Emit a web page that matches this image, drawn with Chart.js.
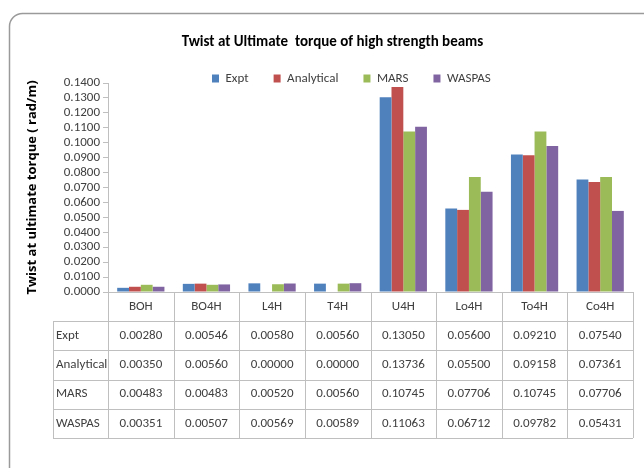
<!DOCTYPE html>
<html>
<head>
<meta charset="utf-8">
<script src="https://cdn.jsdelivr.net/npm/chart.js@4.4.1/dist/chart.umd.min.js"></script>
<style>
html, body { margin: 0; padding: 0; background: #fff; }
</style>
</head>
<body>
<canvas id="twistChart" width="644" height="468"></canvas>
<script>
// beams and twist values (rad/m)
var beams = ['BOH', 'BO4H', 'L4H', 'T4H', 'U4H', 'Lo4H', 'To4H', 'Co4H'];
var expt = [0.00280, 0.00546, 0.00580, 0.00560, 0.13050, 0.05600, 0.09210, 0.07540];
var analytical = [0.00350, 0.00560, 0.00000, 0.00000, 0.13736, 0.05500, 0.09158, 0.07361];
var mars = [0.00483, 0.00483, 0.00520, 0.00560, 0.10745, 0.07706, 0.10745, 0.07706];
var waspas = [0.00351, 0.00507, 0.00569, 0.00589, 0.11063, 0.06712, 0.09782, 0.05431];
var seriesNames = ['Expt', 'Analytical', 'MARS', 'WASPAS'];
var yTicks = { min: 0, max: 0.14, step: 0.01 };

var colors = ['#4F81BD', '#C0504D', '#9BBB59', '#8064A2'];
var font = "'Carlito', 'Liberation Sans Narrow', 'Open Sans', sans-serif";
var textColor = '#404040';
var lineColor = '#bfbfbf';

// rounded frame round the whole chart, like the Excel chart area
var framePlugin = {
    id: 'frame',
    beforeDraw: function (chart) {
        var c = chart.ctx;
        c.save();
        c.strokeStyle = '#9a9a9a';
        c.lineWidth = 1.5;
        c.beginPath();
        c.roundRect(9.5, 13.5, 700, 520, 13);
        c.stroke();
        c.restore();
    }
};

// Excel puts the title a bit right of centre and the legend over the plot top
var boxPlace = {
    id: 'boxPlace',
    afterLayout: function (chart) {
        var t = chart.titleBlock;
        t.left += 16;
        t.right += 16;
        var lg = chart.legend;
        var w = lg.width, h = lg.height;
        var pad = lg.options.labels.padding;
        lg.left = 212 - pad;
        lg.right = lg.left + w;
        lg.top = 72 - pad;
        lg.bottom = lg.top + h;
    }
};

// data table under the x axis, columns follow the category scale
var tablePlugin = {
    id: 'dataTable',
    afterDraw: function (chart) {
        var c = chart.ctx;
        var x = chart.scales.x;
        var top = chart.chartArea.bottom;
        var rowH = 29.2;
        var tableLeft = 53;
        var step = (x.right - x.left) / beams.length;
        var rows = [expt, analytical, mars, waspas];
        var bottom = top + rowH * (rows.length + 1);

        c.save();
        c.strokeStyle = lineColor;
        c.lineWidth = 1;
        c.beginPath();
        for (var k = 1; k <= rows.length + 1; k++) {
            var yy = Math.round(top + rowH * k) + 0.5;
            c.moveTo(tableLeft, yy);
            c.lineTo(x.right, yy);
        }
        for (var i = 0; i <= beams.length; i++) {
            var xx = Math.round(x.left + step * i) + 0.5;
            c.moveTo(xx, top);
            c.lineTo(xx, bottom);
        }
        var lx = tableLeft + 0.5;
        c.moveTo(lx, Math.round(top + rowH) + 0.5);
        c.lineTo(lx, bottom);
        c.stroke();

        c.fillStyle = textColor;
        c.font = '13px ' + font;
        c.textBaseline = 'middle';
        c.textAlign = 'center';
        beams.forEach(function (b, i) {
            c.fillText(b, x.getPixelForValue(i), top + rowH / 2);
        });
        rows.forEach(function (vals, r) {
            var yc = top + rowH * (r + 1.5);
            c.textAlign = 'left';
            c.fillText(seriesNames[r], tableLeft + 3, yc);
            c.textAlign = 'center';
            vals.forEach(function (v, i) {
                c.fillText(v.toFixed(5), x.getPixelForValue(i), yc);
            });
        });
        c.restore();
    }
};

var ctx = document.getElementById('twistChart').getContext('2d');
var twistChart = new Chart(ctx, {
    type: 'bar',
    data: {
        labels: beams,
        datasets: [expt, analytical, mars, waspas].map(function (vals, i) {
            return {
                label: seriesNames[i],
                data: vals,
                backgroundColor: colors[i],
                borderWidth: 0,
                barPercentage: 1.0,
                categoryPercentage: 0.72
            };
        })
    },
    options: {
        responsive: false,
        animation: false,
        layout: { padding: { left: 0, right: 11, top: 0, bottom: 0 } },
        plugins: {
            title: {
                display: true,
                text: 'Twist at Ultimate  torque of high strength beams',
                color: '#000',
                font: { family: font, size: 15, weight: 'bold' },
                padding: { top: 33, bottom: -16 }
            },
            legend: {
                position: 'top',
                align: 'start',
                labels: {
                    boxWidth: 7,
                    boxHeight: 8,
                    padding: 25,
                    color: textColor,
                    font: { family: font, size: 13 }
                }
            },
            tooltip: { enabled: false }
        },
        scales: {
            x: {
                ticks: { display: false },
                grid: { display: false },
                border: { display: true, color: lineColor },
                afterFit: function (s) { s.height = 176; }
            },
            y: {
                min: yTicks.min,
                max: yTicks.max,
                ticks: {
                    stepSize: yTicks.step,
                    autoSkip: false,
                    padding: 3,
                    color: textColor,
                    font: { family: font, size: 13 },
                    callback: function (v) { return v.toFixed(4); }
                },
                grid: { drawOnChartArea: false, drawTicks: true, tickLength: 5, color: lineColor },
                border: { display: true, color: lineColor },
                title: {
                    display: true,
                    text: 'Twist at ultimate torque ( rad/m)',
                    color: '#000',
                    font: { family: "'Open Sans', 'DejaVu Sans', sans-serif", size: 13, weight: 'bold' },
                    padding: { top: 24, bottom: 0 }
                },
                afterFit: function (s) { s.width = 108; }
            }
        }
    },
    plugins: [framePlugin, boxPlace, tablePlugin]
});
</script>
</body>
</html>
